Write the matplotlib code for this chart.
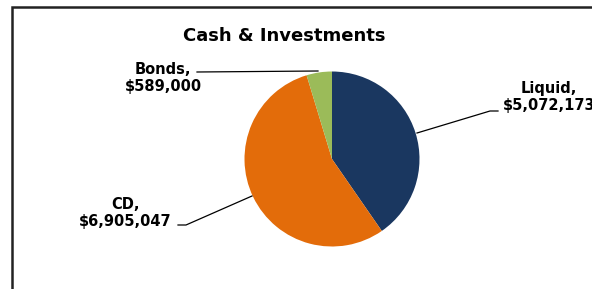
import matplotlib.pyplot as plt
from matplotlib.patches import Rectangle
from matplotlib.lines import Line2D

labels = ['Liquid', 'CD', 'Bonds']
values = [5072173, 6905047, 589000]
colors = ['#1a3760', '#e36c0a', '#9bbb59']

W, H = 592, 289
fig = plt.figure(figsize=(W / 100, H / 100), dpi=100)

# outer chart border (runs off the right and bottom edges)
fig.patches.append(Rectangle((12 / W, -0.1), 1.2, (H - 7) / H + 0.1, transform=fig.transFigure,
                             fill=False, edgecolor='#222222', linewidth=1.8))

cx, cy, r = 332, 159, 87.5
ax = fig.add_axes([(cx - r) / W, (H - cy - r) / H, 2 * r / W, 2 * r / H])
ax.pie(values, colors=colors, startangle=90, counterclock=False, radius=1.0)
ax.set_xlim(-1, 1)
ax.set_ylim(-1, 1)
ax.axis('off')

fig.text(284 / W, 1 - 36 / H, 'Cash & Investments', ha='center', va='center',
         fontsize=13, fontweight='bold')


def px(x, y):
    return x / W, 1 - y / H


# label text positions (pixels) and leader lines
label_pos = {'Liquid': (549, 97), 'CD': (125, 213), 'Bonds': (163, 78)}
leaders = {
    'Liquid': [(417, 133), (490, 111), (498, 111)],
    'CD': [(252, 196), (186, 225), (178, 225)],
    'Bonds': [(318, 71), (197, 72)],
}

for name, val in zip(labels, values):
    x, y = label_pos[name]
    fx, fy = px(x, y)
    fig.text(fx, fy, f'{name},\n${val:,}', ha='center', va='center', fontsize=10.5,
             fontweight='bold', linespacing=1.1)
    pts = leaders[name]
    xs = [p[0] / W for p in pts]
    ys = [1 - p[1] / H for p in pts]
    fig.lines.append(Line2D(xs, ys, transform=fig.transFigure, color='black', linewidth=0.9))

fig.savefig('out.png', dpi=100)
